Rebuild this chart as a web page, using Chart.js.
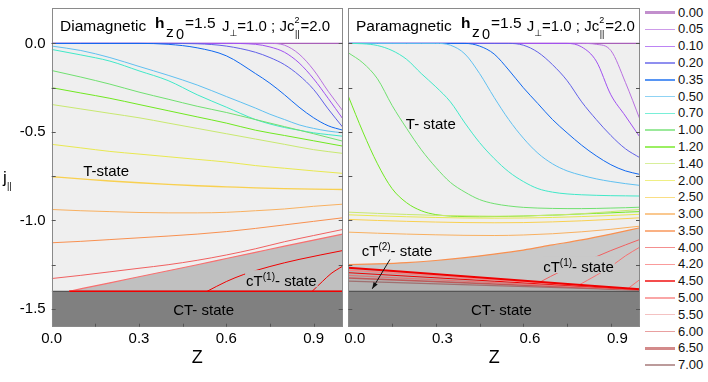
<!DOCTYPE html>
<html>
<head>
<meta charset="utf-8">
<script src="https://cdn.jsdelivr.net/npm/chart.js@4.4.0/dist/chart.umd.min.js"></script>
<style>
  html, body { margin: 0; padding: 0; background: #fff; }
  #wrap { position: relative; width: 708px; height: 382px; overflow: hidden; font-family: 'Liberation Sans', Arial, sans-serif; }
  #c1 { position: absolute; left: 0; top: 0; }
  #c2 { position: absolute; left: 345px; top: 0; }
  #legend { position: absolute; left: 645px; top: 0; width: 63px; height: 382px; }
  .row { position: absolute; left: 0; width: 63px; height: 14px; }
  .row .ln { position: absolute; left: 0; width: 30px; opacity: 0.7; }
  .row .tx { position: absolute; left: 33px; top: 0; font-size: 13px; line-height: 14px; color: #111; }
</style>
</head>
<body>
<div id="wrap">
  <canvas id="c1" width="345" height="382"></canvas>
  <canvas id="c2" width="300" height="382"></canvas>
  <div id="legend"></div>
</div>
<script>
const FONT = "'Liberation Sans', Arial, sans-serif";

// legend (parameter values) and colours
const legendVals = ['0.00','0.05','0.10','0.20','0.35','0.50','0.70','1.00','1.20','1.40','2.00',
                    '2.50','3.00','3.50','4.00','4.20','4.50','5.00','5.50','6.00','6.50','7.00'];
const legendColors = ['#a860b8','#b870e0','#a050f0','#6060e8','#1068f0','#60c0f0','#40e8c8','#70e070','#70e820','#c8e870','#e8e850',
                      '#f8d050','#f8b060','#f89050','#f06060','#f87070','#f00000','#f88080','#f0a8a8','#e07878','#c05858','#a07070'];
const legendWidths = [3,1.5,1.5,1.5,1.5,1.5,1.5,1.5,2,1.5,1.5,1.5,1.5,1.5,1.5,1.5,2,1.5,1.5,1.5,3,1.5];

// axis ticks
const xLabels = [0, 0.3, 0.6, 0.9];
const yLabels = [0, -0.5, -1.0, -1.5];
const xTickVals = [0.15, 0.3, 0.45, 0.6, 0.75, 0.9];
const yTickVals = [0, -0.25, -0.5, -0.75, -1.0, -1.25, -1.5];

// shared z grids
const zEnds = [0, 1];
const zL = [0, 0.1, 0.2, 0.3, 0.4, 0.5, 0.6, 0.7, 0.75, 0.8, 0.85, 0.9, 0.95, 1.0];
const zS = [0, 0.1, 0.2, 0.3, 0.4, 0.5, 0.6, 0.7, 0.8, 0.9, 1.0];
const zF = [0, 0.05, 0.1, 0.15, 0.2, 0.25, 0.3, 0.35, 0.4, 0.45, 0.5, 0.55, 0.6, 0.65, 0.7, 0.75, 0.8, 0.85, 0.9, 0.95, 1.0];

// phase boundaries
const tTop = [0, 0];
const ctTop = [-1.4, -1.4];

// ---- Diamagnetic panel ----
const dia000 = [0, 0];
const dia005 = [0,0,0,0,0,0,0,0,0,-0.01,-0.06,-0.15,-0.27,-0.38];
const dia010 = [0,0,0,0,0,0,0,-0.005,-0.02,-0.05,-0.11,-0.2,-0.31,-0.425];
const dia020 = [0,0,0,0,0,-0.002,-0.015,-0.05,-0.08,-0.12,-0.18,-0.26,-0.37,-0.473];
const dia035 = [0,0,0,0,-0.005,-0.025,-0.07,-0.17,-0.225,-0.29,-0.36,-0.42,-0.465,-0.49];
const dia050 = [-0.015,-0.04,-0.08,-0.13,-0.18,-0.235,-0.3,-0.365,-0.4,-0.43,-0.46,-0.48,-0.495,-0.505];
const dia070 = [-0.034,-0.065,-0.1,-0.155,-0.21,-0.29,-0.36,-0.43,-0.455,-0.475,-0.49,-0.505,-0.515,-0.524];
const dia100 = [-0.153,-0.19,-0.23,-0.275,-0.315,-0.355,-0.39,-0.43,-0.47,-0.51,-0.552];
const dia120 = [-0.25,-0.28,-0.31,-0.345,-0.38,-0.415,-0.45,-0.49,-0.52,-0.55,-0.58];
const dia140 = [-0.345,-0.37,-0.395,-0.42,-0.45,-0.48,-0.51,-0.54,-0.57,-0.6,-0.621];
const dia200 = [-0.57,-0.59,-0.61,-0.625,-0.64,-0.655,-0.67,-0.69,-0.705,-0.72,-0.734];
const dia250 = [-0.753,-0.765,-0.777,-0.787,-0.796,-0.804,-0.81,-0.816,-0.82,-0.823,-0.825];
const dia300 = [-0.938,-0.945,-0.95,-0.955,-0.957,-0.957,-0.954,-0.945,-0.935,-0.92,-0.908];
const dia350 = [-1.126,-1.118,-1.108,-1.098,-1.088,-1.077,-1.063,-1.045,-1.025,-1.005,-0.985];
const dia400 = [-1.328,-1.31,-1.29,-1.27,-1.25,-1.225,-1.195,-1.16,-1.12,-1.085,-1.051];
const zDiaEdge = [0.06, 0.2, 0.3, 0.4, 0.5, 0.6, 0.7, 0.8, 0.9, 1.0];
const dia420 = [-1.4,-1.352,-1.318,-1.284,-1.25,-1.215,-1.18,-1.145,-1.111,-1.077];
const zDiaIn1 = [0.534, 0.6, 0.66, 0.75, 0.85, 1.0];
const dia450 = [-1.4,-1.345,-1.305,-1.26,-1.22,-1.17];
const zDiaIn2 = [0.895, 0.93, 0.96, 1.0];
const dia500 = [-1.4,-1.345,-1.3,-1.258];
const zDiaFloor = [0.06, 1.0];
const diaFloor = [-1.4, -1.4];

// ---- Paramagnetic panel ----
const para000 = [0, 0];
const para005 = [0,0,0,0,0,0,0,0,0,0,0,0,0,0,0,0,0,-0.005,-0.04,-0.22,-0.43];
const para010 = [0,0,0,0,0,0,0,0,0,0,0,0,0,0,0,0,-0.02,-0.1,-0.29,-0.41,-0.53];
const para020 = [0,0,0,0,0,0,0,0,0,0,0,0,-0.01,-0.05,-0.12,-0.21,-0.33,-0.43,-0.52,-0.595,-0.646];
const para035 = [0,0,0,0,0,0,0,0,0,-0.015,-0.06,-0.15,-0.25,-0.34,-0.43,-0.505,-0.575,-0.635,-0.685,-0.72,-0.74];
const para050 = [0,0,0,0,0,0,0,-0.01,-0.06,-0.17,-0.305,-0.43,-0.535,-0.62,-0.68,-0.72,-0.745,-0.765,-0.78,-0.792,-0.802];
const para070 = [0,-0.002,-0.012,-0.04,-0.09,-0.17,-0.245,-0.33,-0.45,-0.56,-0.65,-0.725,-0.78,-0.82,-0.84,-0.85,-0.855,-0.858,-0.86,-0.861,-0.862];
const para100 = [-0.053,-0.11,-0.2,-0.35,-0.48,-0.6,-0.7,-0.785,-0.84,-0.882,-0.905,-0.918,-0.926,-0.93,-0.932,-0.933,-0.933,-0.932,-0.93,-0.928,-0.925];
const para120 = [-0.298,-0.5,-0.68,-0.82,-0.9,-0.945,-0.967,-0.975,-0.978,-0.979,-0.978,-0.977,-0.975,-0.972,-0.97,-0.967,-0.963,-0.96,-0.957,-0.953,-0.95];
const para140 = [-0.953,-0.96,-0.966,-0.971,-0.974,-0.976,-0.975,-0.97,-0.962,-0.95,-0.938];
const para200 = [-0.968,-0.974,-0.979,-0.983,-0.986,-0.987,-0.986,-0.983,-0.978,-0.972,-0.965];
const para250 = [-0.994,-1.0,-1.005,-1.009,-1.012,-1.013,-1.012,-1.008,-1.002,-0.994,-0.985];
const para300 = [-1.066,-1.072,-1.077,-1.081,-1.084,-1.085,-1.082,-1.075,-1.064,-1.05,-1.032];
const para350 = [-1.249,-1.245,-1.238,-1.226,-1.21,-1.19,-1.167,-1.138,-1.11,-1.077,-1.041];
const zParaA = [0.657, 0.73, 0.8, 0.9, 1.0];
const para400 = [-1.348,-1.286,-1.24,-1.17,-1.107];
const zParaB = [0.79, 0.85, 0.9, 0.95, 1.0];
const para420 = [-1.365,-1.31,-1.26,-1.2,-1.15];
const zParaC = [0.96, 1.0];
const para420b = [-1.383,-1.333];
const zBand = [0, 0.5, 1.0];
const para450 = [-1.267,-1.328,-1.388];
const para500 = [-1.28,-1.335,-1.389];
const para550 = [-1.295,-1.343,-1.39];
const para600 = [-1.31,-1.351,-1.391];
const para650 = [-1.325,-1.359,-1.392];
const para700 = [-1.343,-1.368,-1.394];

function pts(zs, js) { return zs.map((z, i) => ({ x: z, y: js[i] })); }

function curve(zs, js, ci, w) {
  return {
    data: pts(zs, js),
    borderColor: legendColors[ci],
    borderWidth: w || 1,
    pointRadius: 0,
    fill: false,
    cubicInterpolationMode: 'monotone',
    order: 0
  };
}

function region(zs, js, color, order, fillTo, edge) {
  return {
    data: pts(zs, js),
    borderColor: edge || 'rgba(0,0,0,0)',
    borderWidth: edge ? 1.2 : 1,
    backgroundColor: color,
    fill: fillTo,
    pointRadius: 0,
    cubicInterpolationMode: 'monotone',
    order: order
  };
}

function scalesFor(showY, labelShift) {
  return {
    x: {
      type: 'linear', min: 0, max: 1,
      grid: { display: false, drawTicks: false },
      border: { display: false },
      ticks: { color: '#000', font: { family: FONT, size: 15 }, padding: 3, labelOffset: labelShift,
               maxRotation: 0, callback: v => v.toFixed(1) },
      afterBuildTicks: s => { s.ticks = xLabels.map(v => ({ value: v })); },
      afterFit: s => { s.height = 55.3; s.paddingLeft = 0; s.paddingRight = 0; }
    },
    y: {
      type: 'linear', min: -1.6, max: 0.2,
      grid: { display: false, drawTicks: false },
      border: { display: false },
      ticks: { display: showY, color: '#000', font: { family: FONT, size: 15 }, padding: 6,
               callback: v => v.toFixed(1) },
      afterBuildTicks: s => { s.ticks = yLabels.map(v => ({ value: v })); },
      afterFit: s => { s.width = showY ? 51.7 : 3.3; s.paddingTop = 0; s.paddingBottom = 0; }
    }
  };
}

// rich text: parts [{s, sup}]
function drawRich(ctx, parts, x, yMid, align, bg) {
  const big = `15px ${FONT}`, small = `10px ${FONT}`;
  let w = 0;
  parts.forEach(p => { ctx.font = p.sup ? small : big; w += ctx.measureText(p.s).width; });
  let x0 = align === 'center' ? x - w / 2 : x;
  const base = yMid + 5.4;
  if (bg) { ctx.fillStyle = bg; ctx.fillRect(x0 - 1, yMid - 10, w + 2, 17); }
  ctx.fillStyle = '#000';
  ctx.textAlign = 'left';
  ctx.textBaseline = 'alphabetic';
  parts.forEach(p => {
    ctx.font = p.sup ? small : big;
    ctx.fillText(p.s, x0, p.sup ? base - 6 : base);
    x0 += ctx.measureText(p.s).width;
  });
}

function drawTitle(ctx, a, t) {
  const L = a.left;
  ctx.fillStyle = '#000';
  ctx.textAlign = 'left';
  ctx.textBaseline = 'alphabetic';
  ctx.font = `15.5px ${FONT}`;
  ctx.fillText(t.name, L + t.nameX, 30.7);
  ctx.font = `bold 15.5px ${FONT}`;
  ctx.fillText('h', L + t.hX, 28.3);
  ctx.font = `15.5px ${FONT}`;
  ctx.fillText('z', L + t.hX + 11, 36.5);
  ctx.font = `14.5px ${FONT}`;
  ctx.fillText('0', L + t.hX + 21, 39);
  ctx.font = `15.5px ${FONT}`;
  ctx.fillText('=1.5', L + t.hX + 30, 28.3);
  let x = L + t.jX;
  ctx.font = `15px ${FONT}`;
  ctx.fillText('J', x, 30.7); x += ctx.measureText('J').width;
  ctx.font = `9px 'DejaVu Sans', ${FONT}`;
  ctx.fillText('\u22A5', x, 36); x += ctx.measureText('\u22A5').width;
  ctx.font = `15px ${FONT}`;
  const s = '=1.0 ; Jc';
  ctx.fillText(s, x, 30.7); x += ctx.measureText(s).width;
  ctx.font = `9px ${FONT}`;
  ctx.fillText('2', x, 23.3);
  ctx.fillText('||', x + 0.5, 37);
  x += ctx.measureText('2').width + 1;
  ctx.font = `15px ${FONT}`;
  ctx.fillText('=2.0', x, 30.7);
}

function makeDeco(cfg) {
  return {
    id: 'deco',
    afterDatasetsDraw(chart) {
      const { ctx, chartArea: a, scales: { x, y } } = chart;
      ctx.save();
      // labels
      cfg.labels.forEach(l => {
        drawRich(ctx, l.parts, x.getPixelForValue(l.z), y.getPixelForValue(l.j), l.align, l.bg);
      });
      // arrow
      if (cfg.arrow) {
        const x1 = x.getPixelForValue(cfg.arrow[0]), y1 = y.getPixelForValue(cfg.arrow[1]);
        const x2 = x.getPixelForValue(cfg.arrow[2]), y2 = y.getPixelForValue(cfg.arrow[3]);
        ctx.strokeStyle = '#111'; ctx.lineWidth = 1;
        ctx.beginPath(); ctx.moveTo(x1, y1); ctx.lineTo(x2, y2); ctx.stroke();
        const ang = Math.atan2(y2 - y1, x2 - x1);
        ctx.fillStyle = '#111';
        ctx.beginPath();
        ctx.moveTo(x2, y2);
        ctx.lineTo(x2 - 7 * Math.cos(ang - 0.35), y2 - 7 * Math.sin(ang - 0.35));
        ctx.lineTo(x2 - 7 * Math.cos(ang + 0.35), y2 - 7 * Math.sin(ang + 0.35));
        ctx.closePath(); ctx.fill();
      }
      // frame
      ctx.strokeStyle = '#8a8a8a'; ctx.lineWidth = 1;
      ctx.strokeRect(Math.round(a.left) + 0.5, Math.round(a.top) + 0.5, Math.round(a.width) - 1, Math.round(a.height) - 1);
      // inward ticks
      ctx.strokeStyle = '#555';
      ctx.beginPath();
      yTickVals.forEach(v => {
        const py = Math.round(y.getPixelForValue(v)) + 0.5;
        ctx.moveTo(a.left, py); ctx.lineTo(a.left + 4, py);
        ctx.moveTo(a.right, py); ctx.lineTo(a.right - 4, py);
      });
      xTickVals.forEach(v => {
        const px = Math.round(x.getPixelForValue(v)) + 0.5;
        ctx.moveTo(px, a.bottom); ctx.lineTo(px, a.bottom - 3);
      });
      ctx.stroke();
      // title inside the top band
      drawTitle(ctx, a, cfg.title);
      // axis title Z
      ctx.fillStyle = '#000';
      ctx.font = `18px ${FONT}`;
      ctx.textAlign = 'center'; ctx.textBaseline = 'alphabetic';
      ctx.fillText('Z', (a.left + a.right) / 2, 362.7);
      // y title
      if (cfg.yTitle) {
        ctx.textAlign = 'left';
        ctx.font = `17px ${FONT}`;
        ctx.fillText('j', 3, 183);
        ctx.font = `9px ${FONT}`;
        ctx.fillText('||', 7, 189);
      }
      ctx.restore();
    }
  };
}

function baseOptions(showY, labelShift, pad) {
  return {
    responsive: false,
    devicePixelRatio: 1,
    animation: false,
    events: [],
    layout: { padding: pad },
    plugins: { legend: { display: false }, tooltip: { enabled: false } },
    scales: scalesFor(showY, labelShift)
  };
}

// ---- left chart ----
const diaDatasets = [
  curve(zDiaFloor, diaFloor, 16, 1.6),
  curve(zDiaIn1, dia450, 16, 1),
  curve(zDiaIn2, dia500, 16, 1),
  curve(zDiaEdge, dia420, 15, 1.2),
  curve(zS, dia400, 14),
  curve(zS, dia350, 13),
  curve(zS, dia300, 12),
  curve(zS, dia250, 11, 1.3),
  curve(zS, dia200, 10),
  curve(zS, dia140, 9),
  curve(zS, dia120, 8),
  curve(zS, dia100, 7),
  curve(zL, dia070, 6),
  curve(zL, dia050, 5),
  curve(zL, dia035, 4),
  curve(zL, dia020, 3),
  curve(zL, dia010, 2),
  curve(zL, dia005, 1),
  curve(zEnds, dia000, 0, 1.3),
  region(zEnds, tTop, '#efefef', 40, { value: -1.4 }),
  region(zDiaEdge, dia420, '#c0c0c0', 30, { value: -1.4 }),
  region(zEnds, ctTop, '#808080', 10, 'start', '#555')
];

new Chart(document.getElementById('c1'), {
  type: 'line',
  data: { datasets: diaDatasets },
  options: baseOptions(true, 0, { top: 8, right: 2.3, left: 0, bottom: 0 }),
  plugins: [makeDeco({
    yTitle: true,
    title: { name: 'Diamagnetic', nameX: 8.3, hX: 103.3, jX: 170.3 },
    labels: [
      { parts: [{ s: 'T-state' }], z: 0.108, j: -0.716 },
      { parts: [{ s: 'cT' }, { s: '(1)', sup: true }, { s: '- state' }], z: 0.668, j: -1.337, bg: '#c0c0c0' },
      { parts: [{ s: 'CT- state' }], z: 0.522, j: -1.503, align: 'center' }
    ]
  })]
});

// ---- right chart ----
const paraDatasets = [
  curve(zBand, para450, 16, 2),
  curve(zBand, para500, 17, 1.3),
  curve(zBand, para550, 16, 1),
  curve(zBand, para600, 19, 1.3),
  curve(zBand, para650, 20, 1.4),
  curve(zBand, para700, 21, 1.3),
  curve(zParaA, para400, 14, 1),
  curve(zParaB, para420, 15, 1),
  curve(zParaC, para420b, 15, 1),
  curve(zS, para350, 13, 1.2),
  curve(zS, para300, 12),
  curve(zS, para250, 11),
  curve(zS, para200, 10),
  curve(zS, para140, 9),
  curve(zF, para120, 8),
  curve(zF, para100, 7),
  curve(zF, para070, 6),
  curve(zF, para050, 5),
  curve(zF, para035, 4),
  curve(zF, para020, 3),
  curve(zF, para010, 2),
  curve(zF, para005, 1),
  curve(zEnds, para000, 0, 1.3),
  region(zEnds, tTop, '#efefef', 40, { value: -1.4 }),
  region(zS, para350, '#c9c9c9', 30, { value: -1.4 }),
  region(zBand, para450, '#b2b2b2', 20, { value: -1.4 }),
  region(zEnds, ctTop, '#808080', 10, 'start', '#555')
];

new Chart(document.getElementById('c2'), {
  type: 'line',
  data: { datasets: paraDatasets },
  options: baseOptions(false, 6.5, { top: 8, right: 5, left: 0, bottom: 0 }),
  plugins: [makeDeco({
    yTitle: false,
    title: { name: 'Paramagnetic', nameX: 7.7, hX: 112.7, jX: 178.4 },
    labels: [
      { parts: [{ s: 'T- state' }], z: 0.283, j: -0.452, align: 'center' },
      { parts: [{ s: 'cT' }, { s: '(2)', sup: true }, { s: '- state' }], z: 0.046, j: -1.173 },
      { parts: [{ s: 'cT' }, { s: '(1)', sup: true }, { s: '- state' }], z: 0.668, j: -1.258, bg: '#c9c9c9' },
      { parts: [{ s: 'CT- state' }], z: 0.525, j: -1.503, align: 'center' }
    ],
    arrow: [0.143, -1.22, 0.082, -1.386]
  })]
});

// ---- legend ----
const leg = document.getElementById('legend');
legendVals.forEach((v, i) => {
  const cy = 12.7 + i * 16.78;
  const row = document.createElement('div');
  row.className = 'row';
  row.style.top = (cy - 7) + 'px';
  const ln = document.createElement('span');
  ln.className = 'ln';
  ln.style.height = legendWidths[i] + 'px';
  ln.style.top = (7 - legendWidths[i] / 2) + 'px';
  ln.style.background = legendColors[i];
  const tx = document.createElement('span');
  tx.className = 'tx';
  tx.textContent = v;
  row.appendChild(ln);
  row.appendChild(tx);
  leg.appendChild(row);
});
</script>
</body>
</html>
